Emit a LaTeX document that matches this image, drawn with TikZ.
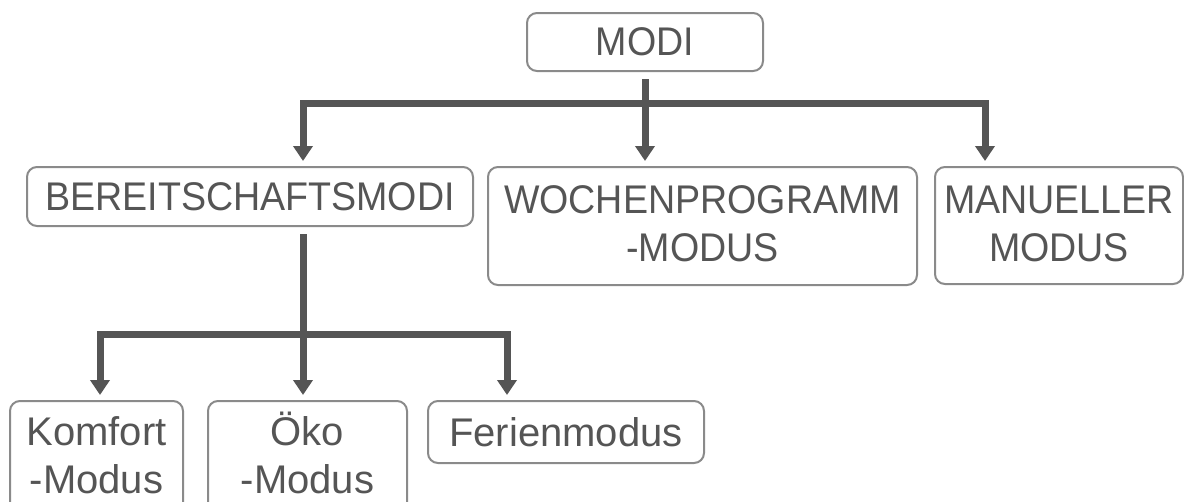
\documentclass[tikz,border=0pt]{standalone}
\usepackage{fontspec}
\setmainfont{Liberation Sans}
\newfontfamily\capsfont[FakeStretch=0.94]{Liberation Sans}
\usetikzlibrary{arrows.meta}
\tikzset{>={Triangle[width=19pt,length=15pt]}}
\definecolor{mytext}{HTML}{555555}
\definecolor{myline}{HTML}{555555}
\definecolor{myframe}{HTML}{8A8A8A}

\begin{document}
\begin{tikzpicture}[x=1pt, y=-1pt,
                    box/.style={draw=myframe, line width=2pt, rounded corners=10pt,
                                text=mytext, align=center, inner sep=0pt,
                                font=\capsfont\fontsize{40}{48}\selectfont},
                    smallbox/.style={box, font=\fontsize{40}{48}\selectfont},
                    conn/.style={myline, line width=7pt}]
  \useasboundingbox (0,0) rectangle (1184,501);
  \clip (0,0) rectangle (1184,501);

  % TOP LEVEL
  \node[box, minimum width=236pt, minimum height=58pt] (modi) at (645,42) {MODI};

  % SECOND LEVEL
  \node[box, minimum width=446pt, minimum height=59pt] (bereit) at (250,196.5) {BEREITSCHAFTSMODI};
  \node[box, minimum width=429pt, minimum height=118pt, text depth=4.5pt] (woch) at (702.5,226) {WOCHENPROGRAMM\\-MODUS};
  \node[box, minimum width=248pt, minimum height=117pt, text depth=4.5pt] (manu) at (1059,225.5) {MANUELLER\\MODUS};

  % THIRD LEVEL
  \node[smallbox, minimum width=173pt, minimum height=118pt, text height=77pt, text depth=11pt] (komfort) at (96.5,460) {Komfort\\-Modus};
  \node[smallbox, minimum width=199pt, minimum height=118pt, text height=77pt, text depth=11pt] (oeko) at (307.5,460) {Öko\\-Modus};
  \node[smallbox, minimum width=276pt, minimum height=62pt] (ferien) at (566,432) {Ferienmodus};

  % bar corners
  \coordinate (b1l) at (303,103);
  \coordinate (b1r) at (985,103);
  \coordinate (b2l) at (100,334);
  \coordinate (b2r) at (507,334);

  % MODI -> second level
  \draw[conn,->] ([yshift=-7pt]modi.south) -- ([yshift=5pt]modi.south |- woch.north);
  \draw[conn,<->] ([yshift=5pt]b1l |- bereit.north) -- (b1l) -- (b1r) -- ([yshift=5pt]b1r |- manu.north);

  % BEREITSCHAFTSMODI -> third level
  \draw[conn,->] ([yshift=-7pt]bereit.south -| b1l) -- ([yshift=5pt]b1l |- oeko.north);
  \draw[conn,<->] ([yshift=5pt]b2l |- komfort.north) -- (b2l) -- (b2r) -- ([yshift=5pt]b2r |- ferien.north);

\end{tikzpicture}
\end{document}
